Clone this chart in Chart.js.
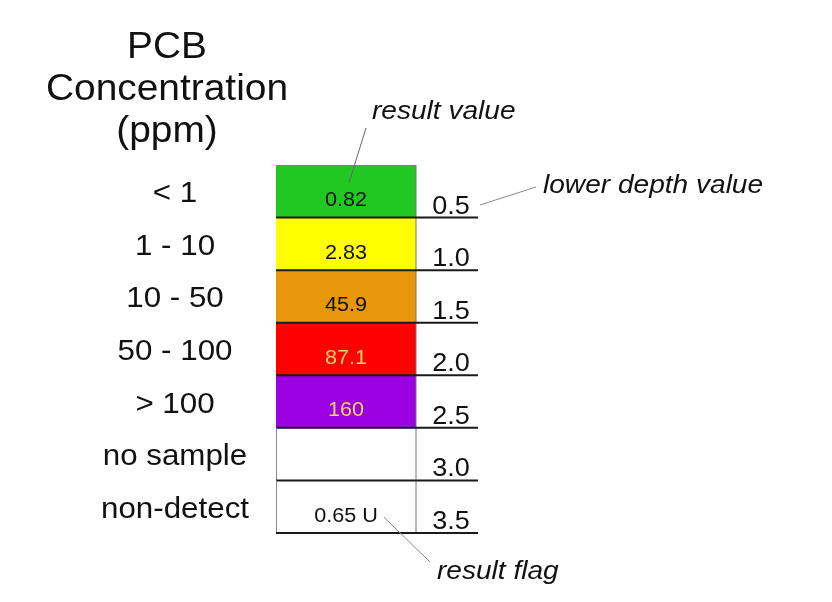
<!DOCTYPE html>
<html>
<head>
<meta charset="utf-8">
<script src="https://cdn.jsdelivr.net/npm/chart.js@4"></script>
<style>
  html, body { margin: 0; padding: 0; background: #fff; }
  canvas { display: block; }
</style>
</head>
<body>
<canvas id="coreChart" width="832" height="602"></canvas>
<script>
// legend rows of the core log
const titleLines = ['PCB', 'Concentration', '(ppm)'];
const rangeLabels = ['< 1', '1 - 10', '10 - 50', '50 - 100', '> 100', 'no sample', 'non-detect'];
const resultLabels = ['0.82', '2.83', '45.9', '87.1', '160', '', '0.65 U'];
const depthTop = [0.0, 0.5, 1.0, 1.5, 2.0, 2.5, 3.0];
const depthBottom = [0.5, 1.0, 1.5, 2.0, 2.5, 3.0, 3.5];
const depthTicks = ['0.5', '1.0', '1.5', '2.0', '2.5', '3.0', '3.5'];
const fillColors = ['#22c822', '#ffff00', '#e8960c', '#ff0000', '#9a00e2', '#ffffff', '#ffffff'];
const textColors = ['#111', '#111', '#111', '#ffd25a', '#ffd25a', '#111', '#111'];

const SX = 1.08; // the original art is stretched sideways a little
const FONT = '"Liberation Sans", Arial, sans-serif';

function stretchText(ctx, txt, x, y, font, color, align, base) {
  ctx.save();
  ctx.translate(x, y);
  ctx.scale(SX, 1);
  ctx.font = font;
  ctx.fillStyle = color;
  ctx.textAlign = align || 'center';
  ctx.textBaseline = base || 'middle';
  ctx.fillText(txt, 0, 0);
  ctx.restore();
}

function line(ctx, x1, y1, x2, y2, color, w) {
  ctx.save();
  ctx.strokeStyle = color;
  ctx.lineWidth = w;
  ctx.beginPath();
  ctx.moveTo(x1, y1);
  ctx.lineTo(x2, y2);
  ctx.stroke();
  ctx.restore();
}

const legendText = {
  id: 'legendText',
  afterDraw(chart) {
    const ctx = chart.ctx;
    const y = chart.scales.y;
    const left = chart.chartArea.left;
    const right = chart.chartArea.right;
    const labelX = 175;
    const depthX = 451;
    const lineEnd = 478;

    titleLines.forEach((t, i) => {
      stretchText(ctx, t, 167, 48 + i * 42, '36px ' + FONT, '#111');
    });

    // outlines for the empty rows and the right edge
    line(ctx, right, y.getPixelForValue(0), right, y.getPixelForValue(3.5), '#777', 1);

    for (let i = 0; i < rangeLabels.length; i++) {
      const top = y.getPixelForValue(depthTop[i]);
      const bot = y.getPixelForValue(depthBottom[i]);
      if (fillColors[i] === '#ffffff') {
        line(ctx, left + 0.5, top, left + 0.5, bot, '#888', 1);
      }
      line(ctx, left, bot, lineEnd, bot, '#1a1a1a', 2);
      stretchText(ctx, rangeLabels[i], labelX, (top + bot) / 2 + 3, '29px ' + FONT, '#111');
      if (resultLabels[i]) {
        stretchText(ctx, resultLabels[i], (left + right) / 2, bot - 17, '20px ' + FONT, textColors[i]);
      }
      stretchText(ctx, depthTicks[i], depthX, bot - 4, '25px ' + FONT, '#111', 'center', 'alphabetic');
    }

    // callouts
    const italic = 'italic 26px ' + FONT;
    stretchText(ctx, 'result value', 372, 112, italic, '#111', 'left');
    line(ctx, 366, 128, 349, y.getPixelForValue(0.17), '#666', 1);

    stretchText(ctx, 'lower depth value', 543, 186, italic, '#111', 'left');
    line(ctx, 480, y.getPixelForValue(0.38), 536, 187, '#888', 1);

    stretchText(ctx, 'result flag', 437, 572, italic, '#111', 'left');
    line(ctx, 384, y.getPixelForValue(3.35), 430, 562, '#888', 1);
  }
};

const datasets = rangeLabels.map((lab, i) => ({
  label: lab,
  data: [[depthTop[i], depthBottom[i]]],
  backgroundColor: fillColors[i],
  borderWidth: 0,
  grouped: false,
  barPercentage: 1,
  categoryPercentage: 1
}));

new Chart(document.getElementById('coreChart').getContext('2d'), {
  type: 'bar',
  data: { labels: ['core'], datasets: datasets },
  options: {
    responsive: false,
    animation: false,
    layout: { padding: { left: 276, right: 416, top: 165, bottom: 69 } },
    scales: {
      x: { display: false },
      y: { display: false, reverse: true, min: 0, max: 3.5 }
    },
    plugins: {
      legend: { display: false },
      tooltip: { enabled: false }
    }
  },
  plugins: [legendText]
});
</script>
</body>
</html>
